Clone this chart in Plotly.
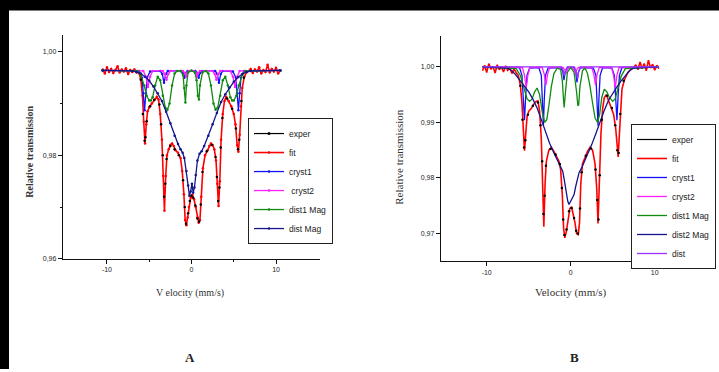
import plotly.graph_objects as go

W, H = 719, 372

# ---------------- Panel A data ----------------
A_fit_v = [-10.5, -10.25, -10.0, -9.75, -9.5, -9.25, -9.0, -8.75, -8.5, -8.25, -8.0, -7.75, -7.5, -7.25, -7.0, -6.75, -6.5,
           -6.25, -6.0, -5.8, -5.65, -5.5, -5.35, -5.2, -5.0, -4.7, -4.4, -4.1, -3.9, -3.7, -3.5, -3.35, -3.2, -3.05, -2.9,
           -2.7, -2.5, -2.3, -2.1, -1.9, -1.6, -1.3, -1.1, -0.9, -0.75, -0.6, -0.45, -0.3, -0.1, 0.1, 0.3, 0.5, 0.7, 0.85,
           1.0, 1.15, 1.35, 1.6, 1.9, 2.1, 2.3, 2.5, 2.7, 2.9, 3.05, 3.2, 3.35, 3.5, 3.7, 3.9, 4.1, 4.4, 4.7, 5.0, 5.2, 5.4,
           5.55, 5.7, 5.85, 6.0, 6.25, 6.5,
           6.75, 7.0, 7.25, 7.5, 7.75, 8.0, 8.25, 8.5, 8.75, 9.0, 9.25, 9.5, 9.75, 10.0, 10.25, 10.5]
A_fit_t = [0.9966, 0.9958, 0.9970, 0.9961, 0.9967, 0.9959, 0.9965, 0.9972, 0.9960, 0.9966, 0.9962, 0.9968, 0.9957, 0.9965,
           0.9961, 0.9966, 0.9960,
           0.9960, 0.9948, 0.9915, 0.9865, 0.9823, 0.9860, 0.9885, 0.9893, 0.9900, 0.9908, 0.9913, 0.9908, 0.9880, 0.9830,
           0.9760, 0.9693, 0.9760, 0.9800, 0.9812, 0.9820, 0.9823, 0.9818, 0.9810, 0.9805, 0.9795, 0.9770, 0.9725, 0.9675,
           0.9665, 0.9680, 0.9700, 0.9718, 0.9724, 0.9715, 0.9700, 0.9680, 0.9670, 0.9675, 0.9720, 0.9775, 0.9800, 0.9810,
           0.9818, 0.9823, 0.9820, 0.9812, 0.9790, 0.9745, 0.9702, 0.9750, 0.9830, 0.9880, 0.9905, 0.9913, 0.9905, 0.9895,
           0.9880, 0.9860, 0.9820, 0.9807, 0.9840, 0.9895, 0.9930, 0.9952, 0.9960,
           0.9963, 0.9967, 0.9959, 0.9966, 0.9962, 0.9970, 0.9958, 0.9965, 0.9961, 0.9975, 0.9960, 0.9967, 0.9962, 0.9969,
           0.9958, 0.9964]

A_exp_v = [-6.0, -5.75, -5.55, -5.45, -5.3, -4.9, -4.4, -3.8, -3.6, -3.4, -3.25, -3.1, -2.95, -2.5, -2.0, -1.5, -1.0, -0.8,
           -0.65, -0.4, -0.2, 0.0, 0.2, 0.45, 0.7, 0.9, 1.1, 1.3, 1.8, 2.4, 2.85, 3.0, 3.15, 3.3, 3.45, 3.65, 4.2, 4.8,
           5.25, 5.5, 5.65, 5.9, 6.2]
A_exp_t = [0.9946, 0.9880, 0.9828, 0.9835, 0.9866, 0.9895, 0.9907, 0.9898, 0.9860, 0.9800, 0.9720, 0.9745, 0.9793, 0.9818,
           0.9812, 0.9800, 0.9752, 0.9700, 0.9668, 0.9688, 0.9712, 0.9722, 0.9718, 0.9703, 0.9678, 0.9672, 0.9705, 0.9768,
           0.9808, 0.9820, 0.9797, 0.9758, 0.9712, 0.9738, 0.9815, 0.9872, 0.9910, 0.9890, 0.9852, 0.9812, 0.9830, 0.9905,
           0.9950]

A_c1_v = [-10.5, -6.2, -5.85, -5.7, -5.55, -5.4, -5.25, -4.9, -3.7, -3.45, -3.25, -3.05, -2.8, -1.25, -1.0, -0.85, -0.7,
          -0.45, 0.45, 0.7, 0.85, 1.0, 1.25, 2.8, 3.05, 3.25, 3.45, 3.7, 4.9, 5.25, 5.4, 5.55, 5.7, 5.85, 6.2, 10.5]
A_c1_t = [0.9964, 0.9963, 0.9950, 0.9920, 0.9887, 0.9920, 0.9950, 0.9962, 0.9963, 0.9957, 0.9940, 0.9957, 0.9963, 0.9963,
          0.9959, 0.9950, 0.9959, 0.9963, 0.9963, 0.9959, 0.9950, 0.9959, 0.9963, 0.9963, 0.9957, 0.9940, 0.9957, 0.9963,
          0.9962, 0.9950, 0.9920, 0.9887, 0.9920, 0.9950, 0.9963, 0.9964]

A_c2_v = [-10.5, -5.7, -5.4, -5.15, -4.9, -4.6, -3.4, -3.15, -2.95, -2.75, -2.5, -1.0, -0.8, -0.65, -0.5, -0.3, 0.3, 0.5,
          0.65, 0.8, 1.0, 2.5, 2.75, 2.95, 3.15, 3.4, 4.6, 4.9, 5.15, 5.4, 5.7, 10.5]
A_c2_t = [0.9964, 0.9963, 0.9952, 0.9932, 0.9952, 0.9963, 0.9963, 0.9957, 0.9946, 0.9957, 0.9963, 0.9963, 0.9959, 0.9952,
          0.9959, 0.9963, 0.9963, 0.9959, 0.9952, 0.9959, 0.9963, 0.9963, 0.9957, 0.9946, 0.9957, 0.9963, 0.9963, 0.9952,
          0.9932, 0.9952, 0.9963, 0.9964]

A_d1_v = [-10.5, -6.4, -6.0, -5.6, -5.3, -5.0, -4.8, -4.6, -4.3, -4.0, -3.7, -3.4, -3.1, -2.85, -2.6, -2.3, -2.0, -1.7,
          -1.3, -1.0, -0.85, -0.72, -0.6, -0.4, 0.0, 0.4, 0.6, 0.75, 0.88, 1.0, 1.3, 1.7, 2.0, 2.3, 2.6, 2.85, 3.1, 3.4,
          3.7, 4.0, 4.3, 4.6, 4.8, 5.0, 5.3, 5.6, 6.0, 6.4, 10.5]
A_d1_t = [0.9964, 0.9963, 0.9955, 0.9935, 0.9915, 0.9906, 0.9906, 0.9912, 0.9935, 0.9952, 0.9945, 0.9915, 0.9892, 0.9888,
          0.9900, 0.9935, 0.9958, 0.9963, 0.9963, 0.9955, 0.9930, 0.9902, 0.9935, 0.9960, 0.9964, 0.9960, 0.9945, 0.9915,
          0.9908, 0.9935, 0.9960, 0.9963, 0.9958, 0.9935, 0.9900, 0.9888, 0.9892, 0.9915, 0.9945, 0.9952, 0.9935, 0.9912,
          0.9906, 0.9906, 0.9915, 0.9935, 0.9955, 0.9963, 0.9964]

A_dm_v = [-10.5, -7.0, -6.5, -6.0, -5.5, -5.0, -4.5, -4.0, -3.5, -3.0, -2.5, -2.0, -1.6, -1.3, -1.05, -0.85, -0.6, -0.4,
          -0.25, -0.1, 0.05, 0.2, 0.35, 0.5, 0.7, 0.95, 1.2, 1.5, 2.0, 2.5, 3.0, 3.5, 4.0, 4.5, 5.0, 5.5, 6.0, 6.5, 7.0, 10.5]
A_dm_t = [0.9964, 0.9963, 0.9961, 0.9958, 0.9952, 0.9944, 0.9933, 0.9920, 0.9905, 0.9884, 0.9862, 0.9838, 0.9822, 0.9812,
          0.9805, 0.9795, 0.9770, 0.9742, 0.9722, 0.9730, 0.9745, 0.9728, 0.9738, 0.9762, 0.9790, 0.9803, 0.9808, 0.9818,
          0.9838, 0.9860, 0.9882, 0.9903, 0.9918, 0.9931, 0.9942, 0.9951, 0.9957, 0.9961, 0.9963, 0.9964]

# ---------------- Panel B data ----------------
B_fit_v = [-10.5, -10.25, -10.0, -9.75, -9.5, -9.25, -9.0, -8.75, -8.5, -8.25, -8.0, -7.75, -7.5, -7.25, -7.0, -6.75, -6.5,
           -6.25, -6.0, -5.8, -5.65, -5.5, -5.35, -5.2, -5.0, -4.7, -4.4, -4.1, -3.9, -3.7, -3.5, -3.35, -3.2, -3.05, -2.9,
           -2.6, -2.3, -2.0, -1.7, -1.4, -1.2, -1.0, -0.85, -0.7, -0.5, -0.3, -0.1, 0.1, 0.3, 0.5, 0.7, 0.9, 1.05, 1.2, 1.4,
           1.7, 2.0, 2.3, 2.6, 2.9, 3.1, 3.25, 3.4, 3.6, 3.8, 4.0, 4.25, 4.5, 4.8, 5.1, 5.35, 5.5, 5.65, 5.8, 5.95, 6.1, 6.4,
           6.8, 7.2,
           7.5, 7.75, 8.0, 8.25, 8.5, 8.75, 9.0, 9.25, 9.5, 9.75, 10.0, 10.25, 10.5]
B_fit_t = [0.9993, 1.0003, 0.9990, 1.0006, 0.9996, 1.0001, 0.9989, 1.0004, 0.9995, 1.0000, 0.9991, 1.0002, 0.9994, 0.9998,
           0.9988, 0.9996, 0.9990,
           0.9985, 0.9968, 0.9935, 0.9890, 0.9849, 0.9880, 0.9910, 0.9920, 0.9925, 0.9933, 0.9938, 0.9939, 0.9920, 0.9870,
           0.9790, 0.9712, 0.9790, 0.9830, 0.9850, 0.9855, 0.9848, 0.9838, 0.9830, 0.9815, 0.9770, 0.9710, 0.9692, 0.9705,
           0.9730, 0.9745, 0.9748, 0.9735, 0.9720, 0.9700, 0.9698, 0.9720, 0.9790, 0.9825, 0.9838, 0.9848, 0.9855, 0.9850,
           0.9825, 0.9780, 0.9718, 0.9780, 0.9880, 0.9925, 0.9945, 0.9950, 0.9940, 0.9930, 0.9915, 0.9890, 0.9855, 0.9838,
           0.9880, 0.9935, 0.9960, 0.9977, 0.9990, 0.9996,
           0.9999, 1.0004, 0.9995, 1.0009, 0.9997, 1.0006, 0.9993, 1.0012, 0.9998, 1.0005, 0.9994, 1.0003, 0.9997]

B_exp_v = [-6.0, -5.75, -5.55, -5.4, -5.1, -4.5, -3.9, -3.6, -3.4, -3.25, -3.1, -2.95, -2.4, -1.8, -1.3, -1.05, -0.9, -0.75,
           -0.5, -0.2, 0.1, 0.4, 0.65, 0.85, 1.1, 1.3, 1.8, 2.4, 2.95, 3.15, 3.3, 3.45, 3.7, 4.3, 4.9, 5.3, 5.55, 5.7, 5.9,
           6.3]
B_exp_t = [0.9966, 0.9905, 0.9855, 0.9868, 0.9914, 0.9930, 0.9936, 0.9895, 0.9830, 0.9735, 0.9768, 0.9822, 0.9852, 0.9842,
           0.9825, 0.9782, 0.9725, 0.9697, 0.9707, 0.9740, 0.9746, 0.9728, 0.9705, 0.9700, 0.9745, 0.9810, 0.9840, 0.9853,
           0.9815, 0.9760, 0.9725, 0.9805, 0.9905, 0.9948, 0.9926, 0.9895, 0.9850, 0.9845, 0.9915, 0.9975]

B_c1_v = [-10.5, -6.1, -5.8, -5.65, -5.5, -5.35, -5.2, -4.9, -3.8, -3.5, -3.35, -3.25, -3.15, -3.0, -2.7, -1.2, -0.95, -0.8,
          -0.65, -0.4, 0.35, 0.6, 0.75, 0.9, 1.15, 2.7, 3.0, 3.15, 3.25, 3.35, 3.5, 3.8, 4.9, 5.2, 5.35, 5.5, 5.65, 5.8,
          6.1, 10.5]
B_c1_t = [1.0, 0.9999, 0.9985, 0.9950, 0.9904, 0.9950, 0.9985, 0.9998, 0.9999, 0.9985, 0.9940, 0.9894, 0.9940, 0.9985,
          0.9998, 0.9999, 0.9992, 0.9976, 0.9992, 0.9999, 0.9999, 0.9990, 0.9972, 0.9990, 0.9999, 0.9998, 0.9985, 0.9940,
          0.9894, 0.9940, 0.9985, 0.9999, 0.9998, 0.9985, 0.9950, 0.9904, 0.9950, 0.9985, 0.9999, 1.0]

B_c2_v = [-10.5, -5.75, -5.5, -5.3, -5.1, -4.85, -3.4, -3.15, -2.95, -2.75, -2.5, -0.9, -0.7, -0.55, -0.4, -0.2, 0.2, 0.4,
          0.55, 0.7, 0.9, 2.5, 2.75, 2.95, 3.15, 3.4, 4.85, 5.1, 5.3, 5.5, 5.75, 10.5]
B_c2_t = [1.0, 0.9999, 0.9985, 0.9962, 0.9985, 0.9999, 0.9999, 0.9987, 0.9967, 0.9987, 0.9999, 0.9999, 0.9995, 0.9988,
          0.9995, 0.9999, 0.9999, 0.9995, 0.9988, 0.9995, 0.9999, 0.9999, 0.9987, 0.9967, 0.9987, 0.9999, 0.9999, 0.9985,
          0.9962, 0.9985, 0.9999, 1.0]

B_d1_v = [-10.5, -6.5, -6.0, -5.6, -5.2, -4.9, -4.6, -4.3, -4.0, -3.7, -3.4, -3.1, -2.85, -2.6, -2.3, -2.0, -1.6, -1.2,
          -1.0, -0.85, -0.78, -0.65, -0.4, 0.0, 0.4, 0.7, 0.85, 0.95, 1.1, 1.4, 1.7, 2.0, 2.3, 2.6, 2.9, 3.2, 3.45, 3.7,
          4.0, 4.3, 4.6, 5.0, 5.3, 5.6, 6.0, 6.5, 10.5]
B_d1_t = [1.0, 0.9997, 0.9985, 0.9962, 0.9943, 0.9938, 0.9942, 0.9955, 0.9962, 0.9950, 0.9920, 0.9900, 0.9905, 0.9930,
          0.9965, 0.9988, 0.9998, 0.9995, 0.9975, 0.9940, 0.9927, 0.9950, 0.9990, 0.9999, 0.9990, 0.9955, 0.9930, 0.9932,
          0.9965, 0.9993, 0.9998, 0.9988, 0.9965, 0.9935, 0.9908, 0.9900, 0.9915, 0.9945, 0.9960, 0.9955, 0.9945, 0.9938,
          0.9943, 0.9960, 0.9983, 0.9997, 1.0]

B_dm_v = [-10.5, -7.5, -7.0, -6.5, -6.0, -5.5, -5.0, -4.5, -4.0, -3.5, -3.0, -2.5, -2.0, -1.5, -1.2, -0.95, -0.75, -0.55,
          -0.35, -0.2, 0.0, 0.2, 0.4, 0.6, 0.8, 1.0, 1.3, 1.6, 2.0, 2.5, 3.0, 3.5, 4.0, 4.5, 5.0, 5.5, 6.0, 6.5, 7.0, 7.5,
          10.5]
B_dm_t = [1.0, 0.9998, 0.9993, 0.9985, 0.9975, 0.9965, 0.9955, 0.9942, 0.9926, 0.9905, 0.9882, 0.9862, 0.9845, 0.9829,
          0.9822, 0.9812, 0.9795, 0.9775, 0.9758, 0.9752, 0.9758, 0.9762, 0.9770, 0.9785, 0.9800, 0.9810, 0.9818, 0.9828,
          0.9842, 0.9860, 0.9880, 0.9902, 0.9922, 0.9940, 0.9953, 0.9964, 0.9975, 0.9985, 0.9993, 0.9998, 1.0]

B_ds_v = [-10.5, -1.1, -0.9, -0.75, -0.6, -0.4, 0.45, 0.65, 0.8, 0.95, 1.15, 10.5]
B_ds_t = [1.0, 1.0, 0.9994, 0.9984, 0.9994, 1.0, 1.0, 0.9992, 0.9978, 0.9992, 1.0, 1.0]

A_yticks = [0.96, 0.98, 1.00]
A_ylabels = ["0,96", "0,98", "1,00"]
B_yticks = [0.97, 0.98, 0.99, 1.00]
B_ylabels = ["0,97", "0,98", "0,99", "1,00"]
x_ticks = [-10, 0, 10]
x_labels = ["-10", "0", "10"]

C_EXP, C_FIT, C_C1, C_C2, C_D1, C_DM, C_DS = "#000000", "#ff0000", "#1010ff", "#ff20ff", "#108a10", "#14148c", "#9b30ff"


def px(x):
    return x / W


def py(y):
    return 1 - y / H


fig = go.Figure()


def add_panel(xa, ya, leg, fit, exp, comps, markers):
    mode = "lines+markers" if markers else "lines"
    fig.add_trace(go.Scatter(x=[None], y=[None], mode=mode, name="exper",
                             line=dict(color=C_EXP, width=1.2), marker=dict(size=3, color=C_EXP),
                             xaxis=xa, yaxis=ya, legend=leg))
    fig.add_trace(go.Scatter(x=fit[0], y=fit[1], mode=mode, name="fit",
                             line=dict(color=C_FIT, width=1.6), marker=dict(size=2.5, color=C_FIT),
                             xaxis=xa, yaxis=ya, legend=leg))
    for name, v, t, col in comps:
        fig.add_trace(go.Scatter(x=v, y=t, mode=mode, name=name,
                                 line=dict(color=col, width=1.3), marker=dict(size=2.5, color=col),
                                 xaxis=xa, yaxis=ya, legend=leg))
    fig.add_trace(go.Scatter(x=exp[0], y=exp[1], mode="markers", name="exper", showlegend=False,
                             marker=dict(size=2.5, color=C_EXP), xaxis=xa, yaxis=ya, legend=leg))


add_panel("x", "y", "legend", (A_fit_v, A_fit_t), (A_exp_v, A_exp_t),
          [("cryst1", A_c1_v, A_c1_t, C_C1), (" cryst2", A_c2_v, A_c2_t, C_C2),
           ("dist1 Mag", A_d1_v, A_d1_t, C_D1), ("dist Mag", A_dm_v, A_dm_t, C_DM)], True)
add_panel("x2", "y2", "legend2", (B_fit_v, B_fit_t), (B_exp_v, B_exp_t),
          [("cryst1", B_c1_v, B_c1_t, C_C1), ("cryst2", B_c2_v, B_c2_t, C_C2),
           ("dist1 Mag", B_d1_v, B_d1_t, C_D1), ("dist2 Mag", B_dm_v, B_dm_t, C_DM),
           ("dist", B_ds_v, B_ds_t, C_DS)], False)

tickfont = dict(family="Liberation Sans", size=7, color="#222")
axis_common = dict(showline=True, linecolor="#111", linewidth=1.4, ticks="outside", ticklen=4, tickwidth=1,
                   tickcolor="#111", showgrid=False, zeroline=False, tickfont=tickfont, fixedrange=True)

fig.update_layout(
    width=W, height=H, autosize=False,
    margin=dict(l=0, r=0, t=0, b=0),
    paper_bgcolor="#ffffff", plot_bgcolor="#ffffff",
    xaxis=dict(domain=[px(63), px(320)], range=[-15.2, 15.2], tickmode="array", tickvals=x_ticks,
               ticktext=x_labels, anchor="y",
               minor=dict(tickvals=[-5, 5], ticklen=2, ticks="outside", tickcolor="#111"), **axis_common),
    yaxis=dict(domain=[py(261), py(35)], range=[0.96, 1.0033], tickmode="array", tickvals=A_yticks,
               ticktext=A_ylabels, anchor="x",
               minor=dict(tickvals=[0.97, 0.99], ticklen=2, ticks="outside", tickcolor="#111"), **axis_common),
    xaxis2=dict(domain=[px(441), px(699)], range=[-15.44, 15.27], tickmode="array", tickvals=x_ticks,
                ticktext=x_labels, anchor="y2", **axis_common),
    yaxis2=dict(domain=[py(263.3), py(36.7)], range=[0.965, 1.0055], tickmode="array", tickvals=B_yticks,
                ticktext=B_ylabels, anchor="x2", **axis_common),
    legend=dict(x=px(248), y=py(119), xanchor="left", yanchor="top", bgcolor="#ffffff", bordercolor="#222",
                borderwidth=1, font=dict(family="Liberation Sans", size=8.5, color="#222"), itemwidth=30,
                tracegroupgap=0),
    legend2=dict(x=px(631), y=py(125), xanchor="left", yanchor="top", bgcolor="#ffffff", bordercolor="#222",
                 borderwidth=1, font=dict(family="Liberation Sans", size=8.5, color="#222"), itemwidth=30,
                 tracegroupgap=0),
    showlegend=True,
    shapes=[dict(type="rect", xref="paper", yref="paper", x0=0, x1=1, y0=py(10.5), y1=1,
                 fillcolor="#000000", line=dict(width=0), layer="below"),
            dict(type="rect", xref="paper", yref="paper", x0=0, x1=px(9), y0=0, y1=1,
                 fillcolor="#000000", line=dict(width=0), layer="below")],
)

ann_font = dict(family="Liberation Serif", color="#333")
annotations = [
    dict(text="<b>Relative transmission</b>", x=px(30), y=py(153), textangle=-90,
         font=dict(size=10, **ann_font)),
    dict(text="V elocity (mm/s)", x=px(190), y=py(295), font=dict(size=10, **ann_font)),
    dict(text="Relative transmission", x=px(399), y=py(158), textangle=-90,
         font=dict(size=11, **ann_font)),
    dict(text="Velocity (mm/s)", x=px(571), y=py(295), font=dict(size=11, **ann_font)),
    dict(text="<b>A</b>", x=px(190), y=py(360), font=dict(size=13, family="Liberation Serif", color="#222")),
    dict(text="<b>B</b>", x=px(574), y=py(360), font=dict(size=13, family="Liberation Serif", color="#222")),
]
for a in annotations:
    a.update(xref="paper", yref="paper", showarrow=False, xanchor="center", yanchor="middle")
fig.update_layout(annotations=annotations)

fig.write_html("out.html", config={"displayModeBar": False},
               post_script="document.body.style.margin='0';document.body.style.padding='0';"
                           "document.body.style.overflow='hidden';document.body.style.background='#fff';")
